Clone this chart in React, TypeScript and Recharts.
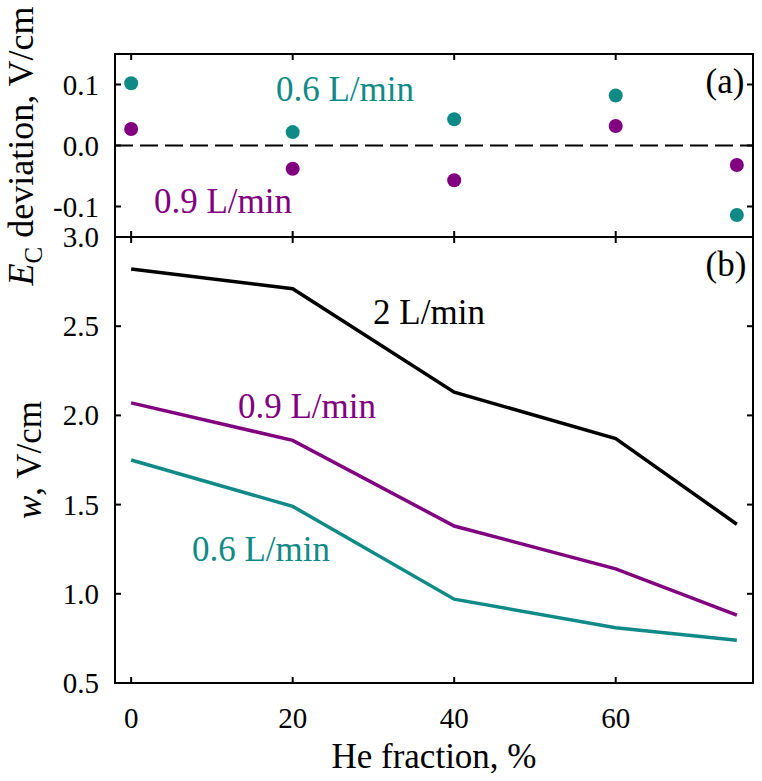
import React from 'react';
import { ScatterChart, Scatter, LineChart, Line, XAxis, YAxis, ReferenceLine, ReferenceArea } from 'recharts';

// ---- data ----
const heFraction = [0, 20, 40, 60, 75];
const ecDeviation06 = [0.102, 0.022, 0.043, 0.082, -0.114];
const ecDeviation09 = [0.027, -0.038, -0.057, 0.032, -0.032];
const w2 = [2.82, 2.71, 2.13, 1.87, 1.39];
const w09 = [2.07, 1.86, 1.38, 1.14, 0.88];
const w06 = [1.75, 1.49, 0.97, 0.81, 0.74];
const xTicks = [0, 20, 40, 60];
const devTicks = [-0.1, 0, 0.1];
const wTicks = [0.5, 1.0, 1.5, 2.0, 2.5, 3.0];

const dev06Points = heFraction.map((x, i) => ({ x, y: ecDeviation06[i] }));
const dev09Points = heFraction.map((x, i) => ({ x, y: ecDeviation09[i] }));
const wRows = heFraction.map((x, i) => ({ x, w2: w2[i], w09: w09[i], w06: w06[i] }));

// ---- style / layout ----
const TEAL = '#0f8a87';
const PURPLE = '#800080';
const FONT = '"Liberation Serif", "Times New Roman", Times, serif';
const W = 762;
const H = 781;
const L = 115;
const R = 753;
const T1 = 54;
const B1 = 237;
const B2 = 683;
const TICK = 6;
const TICK_FS = 29;
const LABEL_FS = 35;

const makeXTick = (top: number, bottom: number, showLabel: boolean) => (props: any) => {
  const { x, payload } = props;
  return (
    <g>
      <line x1={x} x2={x} y1={bottom} y2={bottom - TICK} stroke="#000" strokeWidth={2} />
      <line x1={x} x2={x} y1={top} y2={top + TICK} stroke="#000" strokeWidth={2} />
      {showLabel && (
        <text x={x} y={bottom + 45} textAnchor="middle" fontSize={TICK_FS} fontFamily={FONT} fill="#000">
          {payload.value}
        </text>
      )}
    </g>
  );
};

const makeYTick = () => (props: any) => {
  const { y, payload } = props;
  const v = Number(payload.value);
  return (
    <g>
      <line x1={L} x2={L + TICK} y1={y} y2={y} stroke="#000" strokeWidth={2} />
      <line x1={R} x2={R - TICK} y1={y} y2={y} stroke="#000" strokeWidth={2} />
      <text x={L - 16} y={y} dy={10} textAnchor="end" fontSize={TICK_FS} fontFamily={FONT} fill="#000">
        {v.toFixed(1)}
      </text>
    </g>
  );
};

const dot = (color: string) => (props: any) => (
  <circle cx={props.cx} cy={props.cy} r={7} fill={color} />
);

export default function App() {
  return (
    <div style={{ position: 'absolute', left: 0, top: 0, width: W, height: H, background: '#fff' }}>
      {/* panel (a) */}
      <div style={{ position: 'absolute', left: 0, top: 0 }}>
        <ScatterChart width={W} height={240} margin={{ top: T1, right: W - R, bottom: 2, left: 0 }}>
          <XAxis
            dataKey="x"
            type="number"
            domain={[-2, 77]}
            ticks={xTicks}
            allowDataOverflow
            height={1}
            axisLine={false}
            tickLine={false}
            tickSize={0}
            tickMargin={0}
            interval={0}
            tick={makeXTick(T1, B1, false)}
          />
          <YAxis
            dataKey="y"
            type="number"
            domain={[-0.15, 0.15]}
            ticks={devTicks}
            allowDataOverflow
            width={L}
            axisLine={false}
            tickLine={false}
            tickSize={0}
            tickMargin={16}
            interval={0}
            tick={makeYTick()}
          />
          <ReferenceLine y={0} stroke="#000" strokeWidth={2} strokeDasharray="18 7" />
          <ReferenceArea x1={-2} x2={77} y1={-0.15} y2={0.15} fill="none" stroke="#000" strokeWidth={2} />
          <Scatter data={dev06Points} fill={TEAL} shape={dot(TEAL)} isAnimationActive={false} />
          <Scatter data={dev09Points} fill={PURPLE} shape={dot(PURPLE)} isAnimationActive={false} />
        </ScatterChart>
      </div>

      {/* panel (b) */}
      <div style={{ position: 'absolute', left: 0, top: 0 }}>
        <LineChart width={W} height={H} data={wRows} margin={{ top: B1, right: W - R, bottom: 0, left: 0 }}>
          <XAxis
            dataKey="x"
            type="number"
            domain={[-2, 77]}
            ticks={xTicks}
            allowDataOverflow
            height={H - B2}
            axisLine={false}
            tickLine={false}
            tickSize={0}
            tickMargin={0}
            interval={0}
            tick={makeXTick(B1, B2, true)}
          />
          <YAxis
            type="number"
            domain={[0.5, 3.0]}
            ticks={wTicks}
            allowDataOverflow
            width={L}
            axisLine={false}
            tickLine={false}
            tickSize={0}
            tickMargin={16}
            interval={0}
            tick={makeYTick()}
          />
          <ReferenceArea x1={-2} x2={77} y1={0.5} y2={3.0} fill="none" stroke="#000" strokeWidth={2} />
          <Line dataKey="w2" stroke="#000" strokeWidth={3.5} dot={false} type="linear" isAnimationActive={false} />
          <Line dataKey="w09" stroke={PURPLE} strokeWidth={3.5} dot={false} type="linear" isAnimationActive={false} />
          <Line dataKey="w06" stroke={TEAL} strokeWidth={3.5} dot={false} type="linear" isAnimationActive={false} />
        </LineChart>
      </div>

      {/* text overlay */}
      <svg
        width={W}
        height={H}
        style={{ position: 'absolute', left: 0, top: 0, pointerEvents: 'none' }}
        fontFamily={FONT}
        fontSize={LABEL_FS}
      >
        <text transform="translate(33,146) rotate(-90)" textAnchor="middle" fill="#000" fontSize={36}>
          <tspan fontStyle="italic">E</tspan>
          <tspan fontSize={25} dy={9}>C</tspan>
          <tspan dy={-9}> deviation, V/cm</tspan>
        </text>
        <text transform="translate(41,460) rotate(-90)" textAnchor="middle" fill="#000">
          <tspan fontStyle="italic">w</tspan>
          <tspan>, V/cm</tspan>
        </text>
        <text x={434} y={768} textAnchor="middle" fill="#000">He fraction, %</text>

        <text x={725} y={93} textAnchor="middle" fill="#000">(a)</text>
        <text x={726} y={276} textAnchor="middle" fill="#000">(b)</text>

        <text x={345} y={101} textAnchor="middle" fill={TEAL}>0.6 L/min</text>
        <text x={223} y={213} textAnchor="middle" fill={PURPLE}>0.9 L/min</text>

        <text x={429} y={324} textAnchor="middle" fill="#000">2 L/min</text>
        <text x={307} y={418} textAnchor="middle" fill={PURPLE}>0.9 L/min</text>
        <text x={261} y={561} textAnchor="middle" fill={TEAL}>0.6 L/min</text>
      </svg>
    </div>
  );
}
